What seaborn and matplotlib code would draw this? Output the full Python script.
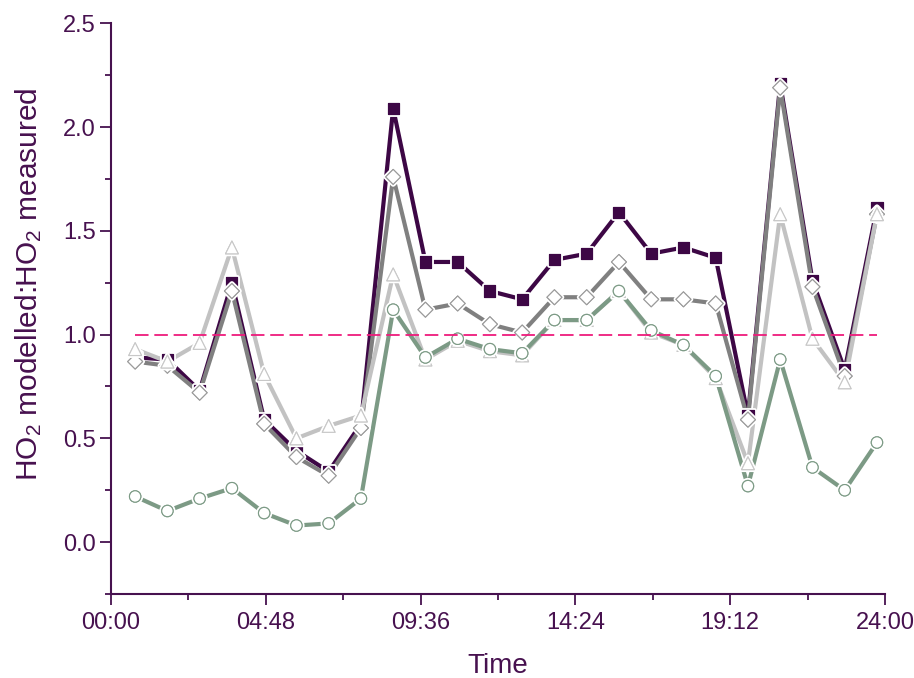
import matplotlib
matplotlib.use("Agg")
import matplotlib.pyplot as plt
import matplotlib.patheffects as pe
from matplotlib.ticker import FixedLocator
import pandas as pd
import seaborn as sns

# Sampling times (hours of the day)
hours = [0.75, 1.75, 2.75, 3.75, 4.75, 5.75, 6.75, 7.75, 8.75, 9.75, 10.75, 11.75,
         12.75, 13.75, 14.75, 15.75, 16.75, 17.75, 18.75, 19.75, 20.75, 21.75, 22.75, 23.75]

# Modelled:measured HO2 ratios for the four model runs
run_a = [0.89, 0.88, 0.73, 1.25, 0.59, 0.44, 0.34, 0.57, 2.09, 1.35, 1.35, 1.21,
         1.17, 1.36, 1.39, 1.59, 1.39, 1.42, 1.37, 0.61, 2.21, 1.26, 0.83, 1.61]
run_b = [0.87, 0.85, 0.72, 1.21, 0.57, 0.41, 0.32, 0.55, 1.76, 1.12, 1.15, 1.05,
         1.01, 1.18, 1.18, 1.35, 1.17, 1.17, 1.15, 0.59, 2.19, 1.23, 0.80, 1.58]
run_c = [0.93, 0.87, 0.96, 1.42, 0.81, 0.50, 0.56, 0.61, 1.29, 0.88, 0.97, 0.92,
         0.90, 1.07, 1.07, 1.21, 1.01, 0.95, 0.79, 0.38, 1.58, 0.98, 0.77, 1.58]
run_d = [0.22, 0.15, 0.21, 0.26, 0.14, 0.08, 0.09, 0.21, 1.12, 0.89, 0.98, 0.93,
         0.91, 1.07, 1.07, 1.21, 1.02, 0.95, 0.80, 0.27, 0.88, 0.36, 0.25, 0.48]

# 1:1 reference line across the measurement period
ref_hours = [0.75, 23.75]
ref_ratio = [1.0, 1.0]

x_tick_pos = [0, 4.8, 9.6, 14.4, 19.2, 24]
x_tick_labels = ["00:00", "04:48", "09:36", "14:24", "19:12", "24:00"]
y_tick_pos = [0.0, 0.5, 1.0, 1.5, 2.0, 2.5]
y_tick_labels = ["0.0", "0.5", "1.0", "1.5", "2.0", "2.5"]

sns.set_style("ticks")
plt.rcParams["font.family"] = ["Liberation Sans", "DejaVu Sans"]
plt.rcParams["mathtext.fontset"] = "custom"
plt.rcParams["mathtext.rm"] = "Liberation Sans"
plt.rcParams["mathtext.it"] = "Liberation Sans:italic"

axis_col = "#47114f"

fig = plt.figure(figsize=(9.14, 6.78), dpi=100)
ax = fig.add_axes([0.1214, 0.1239, 0.8469, 0.8417])

series = [
    (run_a, "#3d0745", "s", 8.0, "#3d0745", "#3d0745"),
    (run_b, "#808080", "D", 7.6, "white", "#9a9a9a"),
    (run_c, "#c2c2c2", "^", 9.2, "white", "#c8c8c8"),
    (run_d, "#7c9a85", "o", 8.2, "white", "#7c9a85"),
]

halo = [pe.withStroke(linewidth=3.5, foreground="white")]

for vals, lc, mk, ms, fc, ec in series:
    df = pd.DataFrame({"hour": hours, "ratio": vals})
    sns.lineplot(data=df, x="hour", y="ratio", color=lc, linewidth=3.0,
                 ax=ax, legend=False, zorder=2)
    pts = sns.scatterplot(data=df, x="hour", y="ratio", marker=mk, s=ms ** 2,
                          color=fc, edgecolor=ec, linewidth=0.8, ax=ax,
                          legend=False, zorder=3)
    pts.collections[-1].set_path_effects(halo + [pe.Normal()])

ref_df = pd.DataFrame({"hour": ref_hours, "ratio": ref_ratio})
sns.lineplot(data=ref_df, x="hour", y="ratio", color="#ee1b7c", linewidth=1.3,
             dashes=False, ax=ax, legend=False, zorder=4)
ax.lines[-1].set_dashes((7.5, 3.2))

ax.set_xlim(0, 24)
ax.set_ylim(-0.25, 2.5)

ax.xaxis.set_major_locator(FixedLocator(x_tick_pos))
ax.set_xticklabels(x_tick_labels)
ax.xaxis.set_minor_locator(FixedLocator([2.4, 7.2, 12.0, 16.8, 21.6]))
ax.yaxis.set_major_locator(FixedLocator(y_tick_pos))
ax.set_yticklabels(y_tick_labels)
ax.yaxis.set_minor_locator(FixedLocator([-0.25, 0.25, 0.75, 1.25, 1.75, 2.25]))

for side in ("top", "right"):
    ax.spines[side].set_visible(False)
for side in ("left", "bottom"):
    ax.spines[side].set_color(axis_col)
    ax.spines[side].set_linewidth(1.5)

ax.tick_params(which="major", direction="out", length=8, width=1.3,
               color=axis_col, labelcolor=axis_col, labelsize=17, pad=3)
ax.tick_params(which="minor", direction="out", length=4.5, width=1.3,
               color=axis_col)
ax.tick_params(axis="x", which="major", pad=5)

ax.set_xlabel("Time", fontsize=20, color=axis_col, labelpad=14)
ax.set_ylabel(r"HO$_2$ modelled:HO$_2$ measured", fontsize=21.5,
              color=axis_col)
ax.yaxis.set_label_coords(-0.086, 0.543)

fig.savefig("out.png", dpi=100)
